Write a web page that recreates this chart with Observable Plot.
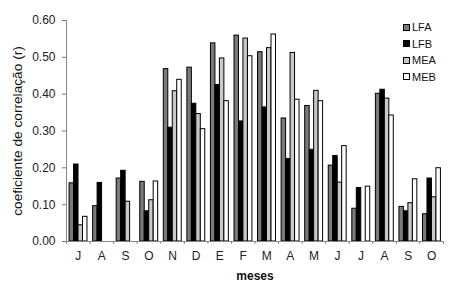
<!DOCTYPE html>
<html>
<head>
<meta charset="utf-8">
<script src="https://cdn.jsdelivr.net/npm/d3@7"></script>
<script src="https://cdn.jsdelivr.net/npm/@observablehq/plot@0.6"></script>
<style>
  html, body { margin: 0; padding: 0; background: #fff; }
  #wrap { position: relative; width: 453px; height: 298px; font-family: "Liberation Sans", Arial, sans-serif; }
  #legend { position: absolute; left: 403px; top: 19px; font-size: 11px; color: #111; }
  #legend div { height: 16.5px; line-height: 16px; display: flex; align-items: center; }
  #legend span.sw { display: inline-block; width: 5px; height: 5px; border: 1px solid #000; margin-right: 2px; }
</style>
</head>
<body>
<div id="wrap">
  <div id="chart"></div>
  <div id="legend"></div>
</div>
<script>
const months = ["J","A","S","O","N","D","E","F","M","A","M","J","J","A","S","O"];
const seriesNames = ["LFA","LFB","MEA","MEB"];
const seriesColors = ["#7a7a7a","#000000","#c9c9c9","#ffffff"];
const LFA = [0.158,0.096,0.171,0.162,0.468,0.472,0.538,0.559,0.514,0.334,0.368,0.206,0.089,0.401,0.094,0.074];
const LFB = [0.209,0.159,0.192,0.082,0.309,0.374,0.425,0.326,0.364,0.224,0.249,0.232,0.145,0.412,0.082,0.171];
const MEA = [0.044,null,0.108,0.112,0.408,0.346,0.497,0.551,0.525,0.512,0.409,0.160,null,0.388,0.104,0.120];
const MEB = [0.067,null,null,0.163,0.439,0.305,0.381,0.503,0.562,0.385,0.381,0.259,0.149,0.342,0.169,0.199];
const yTicks = [0,0.1,0.2,0.3,0.4,0.5,0.6];

const allSeries = [LFA, LFB, MEA, MEB];
const rows = [];
allSeries.forEach((vals, k) => vals.forEach((v, i) => {
  if (v != null) rows.push({i, k, series: seriesNames[k], value: v});
}));

const off = 0.13, bw = 0.19;

const chart = Plot.plot({
  width: 453,
  height: 298,
  marginLeft: 66,
  marginRight: 10,
  marginTop: 20,
  marginBottom: 57,
  style: {fontFamily: "Liberation Sans, Arial, sans-serif", fontSize: "12px", color: "#222"},
  x: {type: "linear", domain: [0, months.length], axis: null},
  y: {domain: [0, 0.6], axis: null},
  color: {type: "ordinal", domain: seriesNames, range: seriesColors},
  marks: [
    Plot.rectY(rows, {
      x1: d => d.i + off + d.k * bw,
      x2: d => d.i + off + (d.k + 1) * bw,
      y1: 0, y2: "value",
      fill: "series", stroke: "#000", strokeWidth: 1
    }),
    Plot.axisY({ticks: yTicks, tickFormat: d3.format(".2f"), tickSize: 4, tickPadding: 7, label: null, stroke: "#777"}),
    Plot.ruleX([0], {stroke: "#888"}),
    Plot.ruleY([0], {stroke: "#888"}),
    Plot.axisX({ticks: d3.range(months.length + 1), tickFormat: () => "", tickSize: 3, stroke: "#888", label: null}),
    Plot.axisX({ticks: d3.range(months.length).map(i => i + 0.5), tickFormat: t => months[Math.floor(t)], tickSize: 0, tickPadding: 10, label: null}),
    Plot.text(["meses"], {frameAnchor: "bottom", dy: 38, fontWeight: "bold", fontSize: 12, fill: "#111"}),
    Plot.text(["coeficiente de correlação (r)"], {frameAnchor: "left", textAnchor: "middle", dx: -49, rotate: -90, fontSize: 13.7, fill: "#111"})
  ]
});
document.getElementById("chart").appendChild(chart);

const legend = document.getElementById("legend");
seriesNames.forEach((name, k) => {
  const row = document.createElement("div");
  const sw = document.createElement("span");
  sw.className = "sw";
  sw.style.background = seriesColors[k];
  row.appendChild(sw);
  row.appendChild(document.createTextNode(name));
  legend.appendChild(row);
});
</script>
</body>
</html>
